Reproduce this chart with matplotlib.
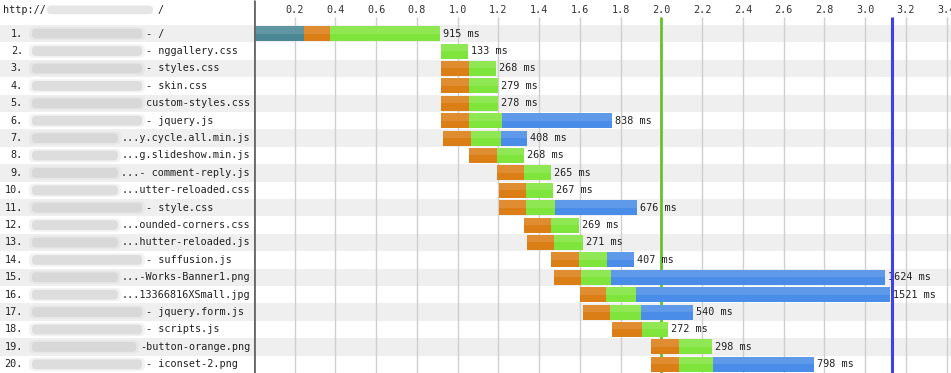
import matplotlib
matplotlib.use("Agg")
import matplotlib.pyplot as plt
import numpy as np
from matplotlib.patches import FancyBboxPatch

# request names (host part is blurred in the original)
names = ["- /", "- nggallery.css", "- styles.css", "- skin.css", "custom-styles.css",
         "- jquery.js", "...y.cycle.all.min.js", "...g.slideshow.min.js",
         "...- comment-reply.js", "...utter-reloaded.css", "- style.css",
         "...ounded-corners.css", "...hutter-reloaded.js", "- suffusion.js",
         "...-Works-Banner1.png", "...13366816XSmall.jpg", "- jquery.form.js",
         "- scripts.js", "-button-orange.png", "- iconset-2.png"]

# timings in ms
start_ms    = [0, 918, 918, 918, 918, 918, 930, 1057, 1191, 1203,
               1203, 1327, 1342, 1458, 1473, 1599, 1614, 1759, 1949, 1949]
dns_ms      = [245, 0, 0, 0, 0, 0, 0, 0, 0, 0,
               0, 0, 0, 0, 0, 0, 0, 0, 0, 0]
connect_ms  = [128, 0, 137, 137, 137, 137, 135, 134, 136, 132,
               132, 131, 132, 139, 132, 129, 134, 144, 137, 137]
ttfb_ms     = [540, 133, 131, 142, 141, 162, 148, 134, 129, 135,
               143, 138, 139, 138, 148, 147, 150, 128, 161, 166]
download_ms = [2, 0, 0, 0, 0, 539, 125, 0, 0, 0,
               401, 0, 0, 130, 1344, 1245, 256, 0, 0, 495]
total_ms    = [915, 133, 268, 279, 278, 838, 408, 268, 265, 267,
               676, 269, 271, 407, 1624, 1521, 540, 272, 298, 798]

ticks = [0.2, 0.4, 0.6, 0.8, 1.0, 1.2, 1.4, 1.6, 1.8, 2.0,
         2.2, 2.4, 2.6, 2.8, 3.0, 3.2, 3.4]
dom_time = 1.997     # green line
onload_time = 3.132  # blue line

W, H = 951, 373
split = 254
px_per_s = 203.7
header_px = 25
row_px = (H - header_px) / 20.0
ytop = -(header_px / row_px - 0.5)

font = "DejaVu Sans Mono"
fs = 7.3

fig = plt.figure(figsize=(W / 100, H / 100), dpi=100)
fig.patch.set_facecolor("white")
axl = fig.add_axes([0, 0, split / W, 1])
axr = fig.add_axes([split / W, 0, 1 - split / W, 1])

n = len(names)
y = np.arange(1, n + 1)

for ax in (axl, axr):
    ax.set_ylim(n + 0.5, ytop)
    ax.axis("off")
    for i in y:
        if i % 2 == 1:
            ax.axhspan(i - 0.5, i + 0.5, color="#efefef", lw=0, zorder=0)
axl.set_xlim(0, split)
axr.set_xlim(0, (W - split) / px_per_s)

# left panel: labels
axl.text(3, -0.38, "http://", fontfamily=font, fontsize=fs, color="#222",
         va="center", ha="left")
axl.add_patch(FancyBboxPatch((47, -0.62), 106, 0.5, boxstyle="round,pad=0,rounding_size=4",
                             fc="#c8c8c8", ec="none", alpha=0.45, zorder=1,
                             mutation_aspect=1 / row_px))
axl.text(157, -0.38, "/", fontfamily=font, fontsize=fs, color="#222", va="center")

char_w = 6.1
for i, name in zip(y, names):
    axl.text(23, i, f"{i}.", fontfamily=font, fontsize=fs, color="#222",
             ha="right", va="center")
    if name.startswith("- "):
        x0 = 146
        axl.text(x0, i, name, fontfamily=font, fontsize=fs, color="#222",
                 ha="left", va="center")
    else:
        axl.text(250, i, name, fontfamily=font, fontsize=fs, color="#222",
                 ha="right", va="center")
        x0 = 250 - len(name) * char_w
    blur_end = x0 - 4
    axl.add_patch(FancyBboxPatch((32, i - 0.28), blur_end - 32, 0.56,
                                 boxstyle="round,pad=0,rounding_size=4",
                                 fc="#c4c4c4", ec="none", alpha=0.5, zorder=1,
                                 mutation_aspect=1 / row_px))
    axl.add_patch(FancyBboxPatch((29, i - 0.38), blur_end - 26, 0.76,
                                 boxstyle="round,pad=0,rounding_size=5",
                                 fc="#d6d6d6", ec="none", alpha=0.3, zorder=1,
                                 mutation_aspect=1 / row_px))

# right panel: grid + ticks
for t in ticks:
    axr.vlines(t, 0.02, n + 0.5, color="#cfcfcf", lw=1, zorder=1)
    axr.text(t, -0.38, f"{t:.1f}", fontfamily=font, fontsize=fs, color="#333",
             ha="center", va="center")

# waterfall bars
start = np.array(start_ms) / 1000
segs = [(dns_ms, "#4b8896"), (connect_ms, "#dc7e16"),
        (ttfb_ms, "#7fe43c"), (download_ms, "#4a8de8")]
left = start.copy()
h = 0.86
for vals, col in segs:
    w = np.array(vals) / 1000
    axr.barh(y, w, left=left, height=h, color=col, lw=0, zorder=3)
    # lighter top half to mimic gradient
    axr.barh(y - h / 4, w, left=left, height=h / 2, color="white", alpha=0.12,
             lw=0, zorder=4)
    left = left + w

for yi, x_end, tot in zip(y, left, total_ms):
    axr.text(x_end + 0.015, yi, f"{tot} ms", fontfamily=font, fontsize=fs,
             color="#222", ha="left", va="center", zorder=5)

axr.vlines(dom_time, 0.02, n + 0.5, color="#66c22e", lw=2, zorder=2)
axr.vlines(onload_time, 0.02, n + 0.5, color="#4040f0", lw=2.2, zorder=6)

# separator between labels and chart
axr.vlines(0, ytop, n + 0.5, color="#666666", lw=2, zorder=7)

fig.savefig("out.png", dpi=100)
